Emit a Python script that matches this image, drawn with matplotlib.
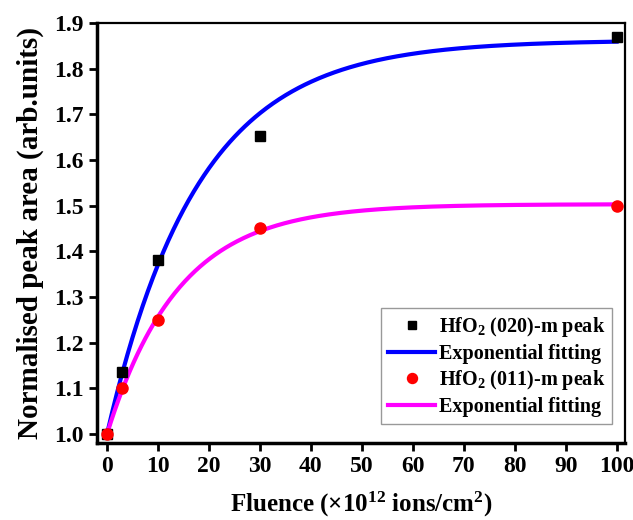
import numpy as np
import matplotlib
matplotlib.use("Agg")
import matplotlib.pyplot as plt

plt.rcParams["font.family"] = ["Liberation Serif", "DejaVu Serif"]
plt.rcParams["font.weight"] = "bold"

# measured peak areas
fluence = [0, 3, 10, 30, 100]
peak_020 = [1.0, 1.135, 1.38, 1.653, 1.87]
peak_011 = [1.0, 1.10, 1.25, 1.45, 1.50]

# exponential fit parameters: y = y0 + A * (1 - exp(-x / t))
fit_020 = {"y0": 1.0, "A": 0.862, "t": 17.8}
fit_011 = {"y0": 1.0, "A": 0.503, "t": 14.0}

xticks = list(range(0, 101, 10))
yticks = [1.0, 1.1, 1.2, 1.3, 1.4, 1.5, 1.6, 1.7, 1.8, 1.9]


def exp_fit(x, p):
    return p["y0"] + p["A"] * (1 - np.exp(-x / p["t"]))


fig = plt.figure(figsize=(6.33, 5.2), dpi=100)
ax = fig.add_axes([0.153, 0.148, 0.834, 0.808])

xs = np.linspace(0, 100, 400)
ax.plot(fluence, peak_020, "s", color="black", ms=7, zorder=4,
        label=r"HfO$\mathregular{_2}$ (020)-m peak")
ax.plot(xs, exp_fit(xs, fit_020), color="#0000ff", lw=3, zorder=3,
        label="Exponential fitting")
ax.plot(fluence, peak_011, "o", color="#ff0000", ms=8, zorder=4,
        label=r"HfO$\mathregular{_2}$ (011)-m peak")
ax.plot(xs, exp_fit(xs, fit_011), color="#ff00ff", lw=3, zorder=3,
        label="Exponential fitting")

ax.set_xlim(-2, 101.6)
ax.set_ylim(0.98, 1.9)
ax.set_xticks(xticks)
ax.set_yticks(yticks)
ax.set_yticklabels([f"{v:.1f}" for v in yticks])

for side in ["left", "bottom"]:
    ax.spines[side].set_linewidth(2.5)
for side in ["top", "right"]:
    ax.spines[side].set_linewidth(1.6)
ax.tick_params(direction="out", length=6, width=2, labelsize=17)
for lab in ax.get_xticklabels() + ax.get_yticklabels():
    lab.set_fontweight("bold")

ax.set_xlabel(r"Fluence (×10$\mathregular{^{12}}$ ions/cm$\mathregular{^2}$)",
              fontsize=18, fontweight="bold", labelpad=9)
ax.set_ylabel("Normalised peak area (arb.units)", fontsize=21,
              fontweight="bold", labelpad=7)

leg = ax.legend(loc="lower right", bbox_to_anchor=(0.995, 0.022),
                fontsize=14.5, frameon=True, fancybox=False,
                handlelength=2.3, handletextpad=0.2, labelspacing=0.22,
                borderpad=0.35, markerscale=0.9)
leg.get_frame().set_edgecolor("gray")
leg.get_frame().set_linewidth(1.0)
for t in leg.get_texts():
    t.set_fontweight("bold")

fig.savefig("out.png", dpi=100)
